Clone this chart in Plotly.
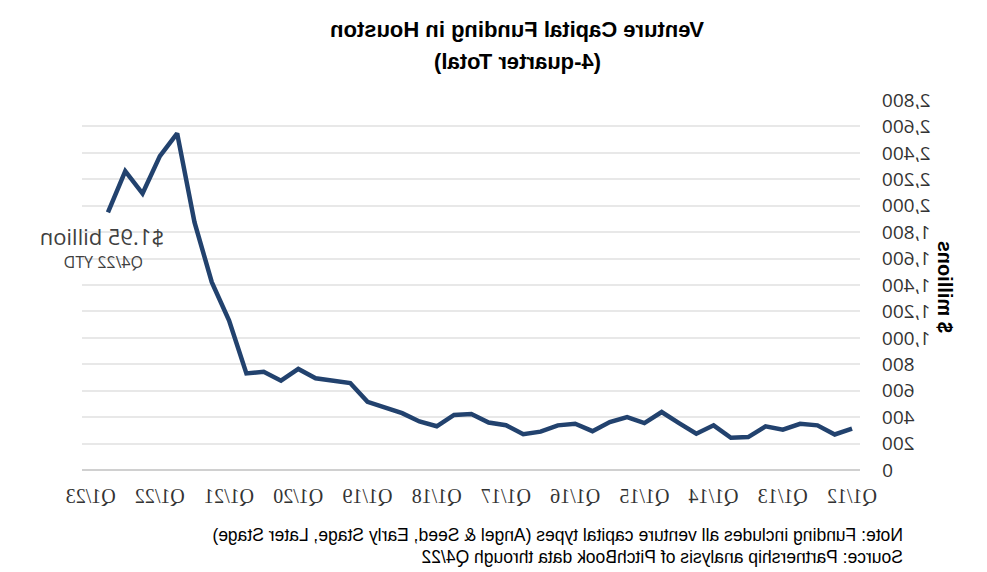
import plotly.graph_objects as go

# Quarterly 4-quarter total VC funding in Houston ($ millions), Q1/12 .. Q4/22
years = list(range(12, 23))
quarters = [f"Q{q}/{y}" for y in years for q in (1, 2, 3, 4)]
funding = [313, 269, 338, 350, 305, 330, 249, 244, 338, 275, 355, 439,
           355, 401, 363, 294, 350, 338, 290, 271, 339, 359, 423, 417,
           331, 367, 430, 473, 516, 658, 676, 694, 765, 676, 744, 731,
           1131, 1421, 1876, 2547, 2375, 2092, 2261, 1950]
tick_labels = ["Q1/12", "Q1/13", "Q1/14", "Q1/15", "Q1/16", "Q1/17",
               "Q1/18", "Q1/19", "Q1/20", "Q1/21", "Q1/22", "Q1/23"]
categories = quarters + ["Q1/23"]
y_ticks = list(range(0, 2801, 200))

W, H = 987, 572
L, R, T, B = 127, 82, 100, 102
pw = W - L - R
ph = H - T - B


def px_x(v):
    return (v - L) / pw


def px_y(v):
    return (H - B - v) / ph


fig = go.Figure()
fig.add_trace(go.Scatter(
    x=quarters, y=funding, mode="lines",
    line=dict(color="#22426e", width=4.5),
    hoverinfo="x+y", showlegend=False,
))

fig.update_layout(
    width=W, height=H,
    margin=dict(l=L, r=R, t=T, b=B),
    paper_bgcolor="white", plot_bgcolor="white",
    xaxis=dict(
        type="category", categoryorder="array", categoryarray=categories,
        range=[-0.46, 44.5],
        tickmode="array", tickvals=tick_labels, ticktext=tick_labels,
        showgrid=False, zeroline=False,
        showline=False, ticks="",
        tickfont=dict(family="Liberation Serif", size=20, color="#333333"),
        ticklabelstandoff=12,
    ),
    yaxis=dict(
        range=[0, 2800], tickvals=y_ticks,
        ticktext=[f"{v:,}" for v in y_ticks],
        showgrid=True, gridcolor="#e8e8e8", gridwidth=1.5,
        zeroline=True, zerolinecolor="#d0d0d0", zerolinewidth=2,
        showline=False, ticks="",
        tickfont=dict(family="Open Sans", size=19, color="#333333"),
        ticklabelstandoff=21,
    ),
    font=dict(family="Liberation Sans", color="#000000"),
)

# Title (two lines)
fig.add_annotation(
    text="<b>Venture Capital Funding in Houston</b>",
    xref="paper", yref="paper", x=px_x(469.5), y=px_y(30),
    xanchor="center", yanchor="middle", showarrow=False,
    font=dict(family="Liberation Sans", size=22, color="#000000"),
)
fig.add_annotation(
    text="<b>(4-quarter Total)</b>",
    xref="paper", yref="paper", x=px_x(469.5), y=px_y(62),
    xanchor="center", yanchor="middle", showarrow=False,
    font=dict(family="Liberation Sans", size=22, color="#000000"),
)
# Y title
fig.add_annotation(
    text="<b>$ millions</b>", textangle=-90,
    xref="paper", yref="paper", x=px_x(42), y=px_y(287),
    xanchor="center", yanchor="middle", showarrow=False,
    font=dict(family="Liberation Sans", size=20, color="#000000"),
)
# Value callout
fig.add_annotation(
    text="$1.95 billion", xref="paper", yref="paper",
    x=px_x(884.5), y=px_y(236),
    xanchor="center", yanchor="middle", showarrow=False,
    font=dict(family="Open Sans", size=22, color="#404040"),
)
fig.add_annotation(
    text="Q4/22 YTD", xref="paper", yref="paper",
    x=px_x(883), y=px_y(262),
    xanchor="center", yanchor="middle", showarrow=False,
    font=dict(family="Open Sans", size=16, color="#404040"),
)
# Footnotes
fig.add_annotation(
    text="Note: Funding includes all venture capital types (Angel &amp; Seed, Early Stage, Later Stage)",
    xref="paper", yref="paper", x=px_x(82), y=px_y(535),
    xanchor="left", yanchor="middle", showarrow=False,
    font=dict(family="Liberation Sans", size=17.5, color="#000000"),
)
fig.add_annotation(
    text="Source: Partnership analysis of PitchBook data through Q4/22",
    xref="paper", yref="paper", x=px_x(82), y=px_y(557),
    xanchor="left", yanchor="middle", showarrow=False,
    font=dict(family="Liberation Sans", size=17.5, color="#000000"),
)

# The reference image is a horizontal mirror of the chart
post = ("document.body.style.margin='0';"
        "var d=document.getElementById('{plot_id}');"
        "d.style.transform='scaleX(-1)';d.style.transformOrigin='center';")
fig.write_html("out.html", post_script=post, config={"displayModeBar": False})
